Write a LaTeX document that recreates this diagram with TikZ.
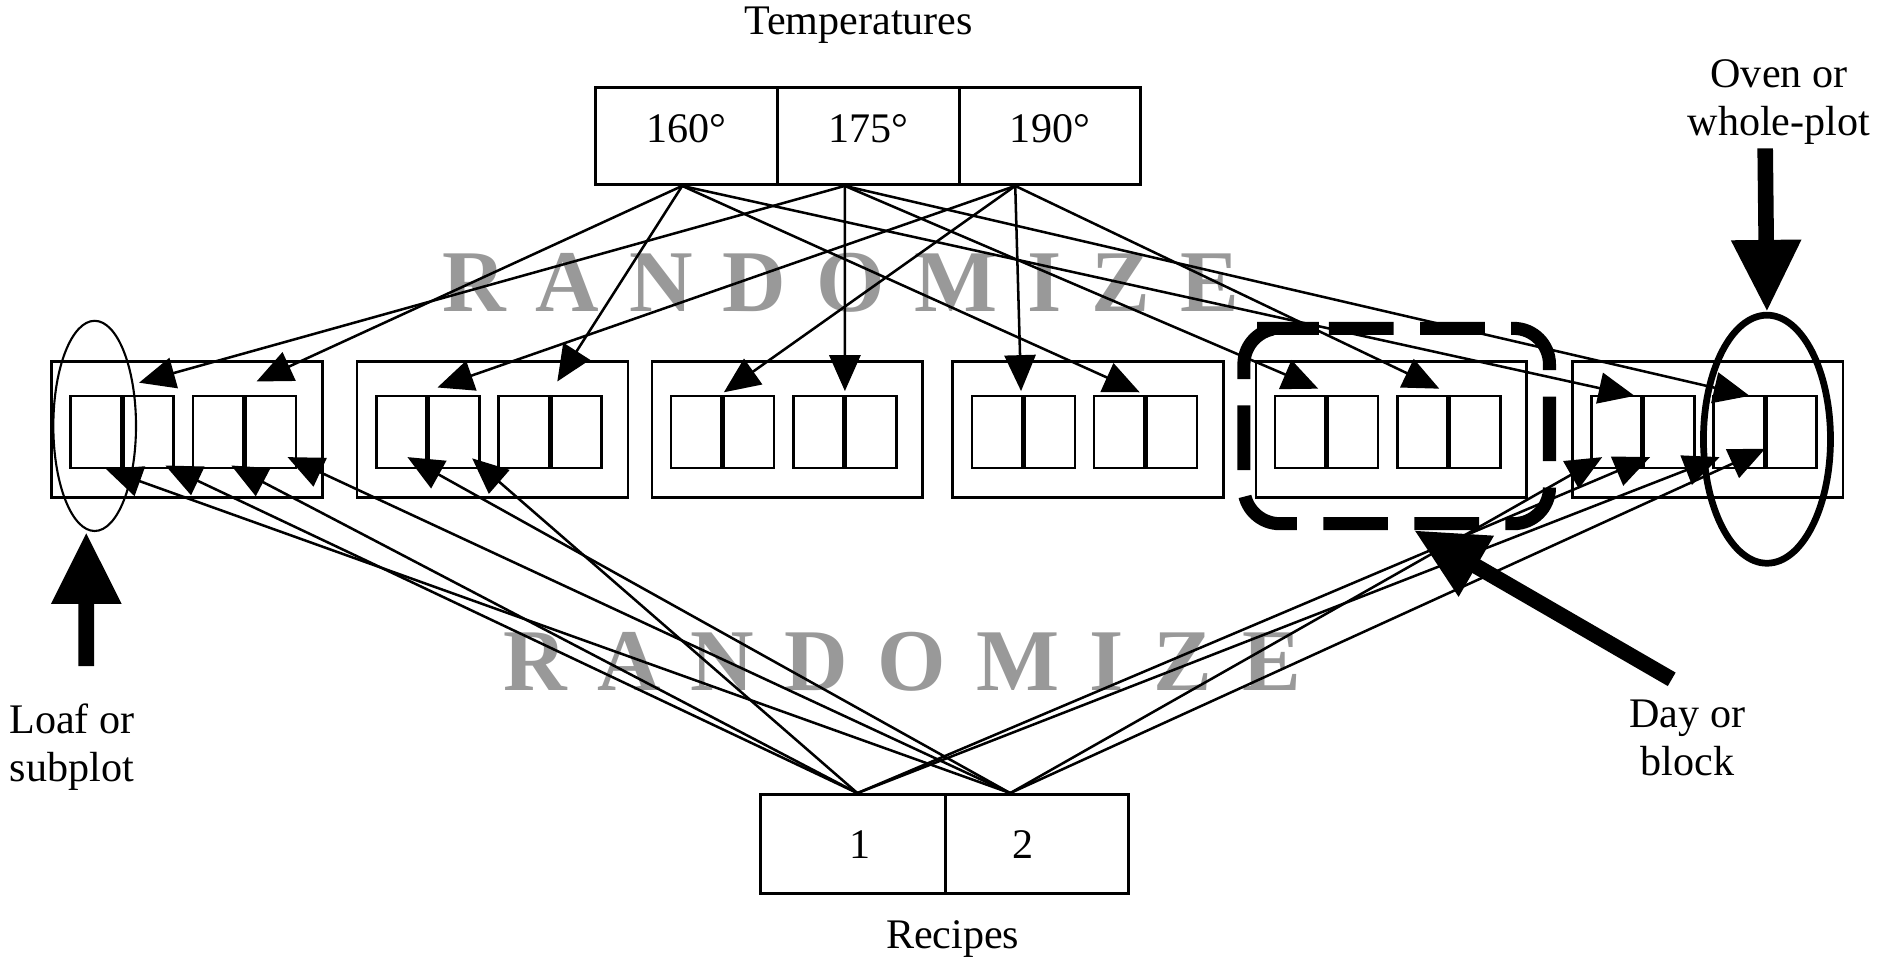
\documentclass[tikz,border=0pt]{standalone}
\usepackage{fontspec}
\setmainfont{Liberation Serif}
\usepackage{xcolor}
\definecolor{randgray}{RGB}{153,153,153}
\usetikzlibrary{arrows.meta,shapes.geometric}
\newcommand{\rgap}{\hspace{0.25cm}}

\begin{document}
\begin{tikzpicture}[
  cell/.style={draw, line width=0.7pt, minimum width=1.517cm, minimum height=0.81cm, inner sep=0pt, font=\fontsize{10}{12}\selectfont},
  tempcell/.style={cell, text depth=0.12cm},
  dayblock/.style={draw, line width=0.6pt, minimum width=2.26cm, minimum height=1.135cm, inner sep=0pt},
  loaf/.style={draw, line width=0.6pt, minimum width=0.42cm, minimum height=0.6cm, inner sep=0pt},
  sidenote/.style={font=\fontsize{10}{11.4}\selectfont, align=center},
  randword/.style={font=\fontsize{20.9}{24}\selectfont\bfseries, text=randgray, inner sep=0pt},
  tarrow/.style={line width=0.6pt, -{Triangle[length=0.3cm, width=0.26cm]}},
  bigarrow/.style={line width=3.7pt, -{Triangle[length=0.6cm, width=0.55cm]}},
  dayframe/.style={line width=3.1pt, dash pattern=on 0.54cm off 0.22cm, rounded corners=0.3cm}
]
  \useasboundingbox (0,0) rectangle (15.68,8.07);

  % the two RANDOMIZE words sit behind the lines
  \node[randword, anchor=base] (randtop) at (7.015,5.47) {R\rgap A\rgap N\rgap D\rgap O\rgap M\rgap I\rgap Z\rgap E};
  \node[randword, anchor=base] (randbottom) at (7.53,2.31) {R\rgap A\rgap N\rgap D\rgap O\rgap M\rgap I\rgap Z\rgap E};

  % temperatures
  \node[font=\fontsize{10}{12}\selectfont, anchor=base] (templabel) at (7.165,7.78) {Temperatures};
  \node[tempcell] (temp160) at (5.728,6.936) {160°};
  \node[tempcell] (temp175) at (7.245,6.936) {175°};
  \node[tempcell] (temp190) at (8.762,6.936) {190°};

  % recipes
  \node[cell, minimum width=1.54cm, minimum height=0.827cm] (recipe1) at (7.12,1.026) {\kern0.12cm 1};
  \node[cell, minimum width=1.53cm, minimum height=0.827cm] (recipe2) at (8.655,1.026) {2\kern0.24cm};
  \node[font=\fontsize{10}{12}\selectfont, anchor=base] (recipelabel) at (7.95,0.154) {Recipes};

  % days (blocks)
  \node[dayblock] (day1) at (1.56,4.484) {};
  \node[dayblock] (day2) at (4.11,4.484) {};
  \node[dayblock] (day3) at (6.57,4.484) {};
  \node[dayblock] (day4) at (9.08,4.484) {};
  \node[dayblock] (day5) at (11.61,4.484) {};
  \node[dayblock] (day6) at (14.25,4.484) {};

  % ovens, two loaves each
  \node[loaf] (oven1a) at (0.80,4.466) {};
  \node[loaf] (oven1b) at (1.24,4.466) {};
  \node[loaf] (oven2a) at (1.82,4.466) {};
  \node[loaf] (oven2b) at (2.26,4.466) {};
  \node[loaf] (oven3a) at (3.35,4.466) {};
  \node[loaf] (oven3b) at (3.79,4.466) {};
  \node[loaf] (oven4a) at (4.37,4.466) {};
  \node[loaf] (oven4b) at (4.81,4.466) {};
  \node[loaf] (oven5a) at (5.81,4.466) {};
  \node[loaf] (oven5b) at (6.25,4.466) {};
  \node[loaf] (oven6a) at (6.83,4.466) {};
  \node[loaf] (oven6b) at (7.27,4.466) {};
  \node[loaf] (oven7a) at (8.32,4.466) {};
  \node[loaf] (oven7b) at (8.76,4.466) {};
  \node[loaf] (oven8a) at (9.34,4.466) {};
  \node[loaf] (oven8b) at (9.78,4.466) {};
  \node[loaf] (oven9a) at (10.85,4.466) {};
  \node[loaf] (oven9b) at (11.29,4.466) {};
  \node[loaf] (oven10a) at (11.87,4.466) {};
  \node[loaf] (oven10b) at (12.31,4.466) {};
  \node[loaf] (oven11a) at (13.49,4.466) {};
  \node[loaf] (oven11b) at (13.93,4.466) {};
  \node[loaf] (oven12a) at (14.51,4.466) {};
  \node[loaf] (oven12b) at (14.95,4.466) {};

  % rings and the dashed day frame
  \node[ellipse, draw, line width=0.5pt, minimum width=0.69cm, minimum height=1.754cm, inner sep=0pt] (loafring) at (0.79,4.516) {};
  \node[ellipse, draw, line width=1.6pt, minimum width=1.06cm, minimum height=2.07cm, inner sep=0pt] (ovenring) at (14.745,4.405) {};
  \draw[dayframe] (10.79,5.33) -- (12.93,5.33) -- (12.93,3.70) -- (10.38,3.70) -- (10.38,5.33) -- cycle;
  \coordinate (dayfoot) at (11.80,3.645);

  % side labels
  \node[sidenote] (loaflabel) at (0.60,1.836) {Loaf or\\subplot};
  \node[sidenote] (ovenlabel) at (14.845,7.22) {Oven or\\whole-plot};
  \node[sidenote] (daylabel) at (14.08,1.91) {Day or\\block};

  \draw[bigarrow] ([xshift=0.12cm,yshift=0.19cm]loaflabel.north) -- ([xshift=-0.07cm]loafring.south);
  \draw[bigarrow] ([xshift=-0.115cm,yshift=0.09cm]ovenlabel.south) -- (ovenring.north);
  \draw[bigarrow] ([xshift=-0.13cm,yshift=0.05cm]daylabel.north) -- (dayfoot);

  % temperatures to ovens
  \coordinate (from160) at ([xshift=-0.035cm]temp160.south);
  \coordinate (from175) at ([xshift=-0.195cm]temp175.south);
  \coordinate (from190) at ([xshift=-0.29cm]temp190.south);
  \draw[tarrow] (from175) -- ([shift={(0.14,0.10)}]oven1a.north east);
  \draw[tarrow] (from160) -- ([shift={(0.10,0.11)}]oven2a.north east);
  \draw[tarrow] (from190) -- ([shift={(0.08,0.06)}]oven3a.north east);
  \draw[tarrow] (from160) -- ([shift={(0.06,0.11)}]oven4a.north east);
  \draw[tarrow] (from190) -- ([shift={(0.01,0.02)}]oven5a.north east);
  \draw[tarrow] (from175) -- ([shift={(0,0.03)}]oven6a.north east);
  \draw[tarrow] (from190) -- ([shift={(-0.02,0.03)}]oven7a.north east);
  \draw[tarrow] (from160) -- ([shift={(-0.05,0.02)}]oven8a.north east);
  \draw[tarrow] (from175) -- ([shift={(-0.07,0.05)}]oven9a.north east);
  \draw[tarrow] (from190) -- ([shift={(-0.08,0.05)}]oven10a.north east);
  \draw[tarrow] (from160) -- ([shift={(-0.07,-0.01)}]oven11a.north east);
  \draw[tarrow] (from175) -- ([shift={(-0.13,-0.01)}]oven12a.north east);

  % recipes to loaves
  \coordinate (from1) at ([xshift=0.035cm]recipe1.north);
  \coordinate (from2) at ([xshift=-0.225cm]recipe2.north);
  \draw[tarrow] (from2) -- ([shift={(0.085,0)}]oven1a.south);
  \draw[tarrow] (from1) -- ([shift={(0.14,0.03)}]oven1b.south);
  \draw[tarrow] (from1) -- ([shift={(0.11,0.03)}]oven2a.south);
  \draw[tarrow] (from2) -- ([shift={(0.14,0.10)}]oven2b.south);
  \draw[tarrow] (from2) -- ([shift={(0.05,0.10)}]oven3a.south);
  \draw[tarrow] (from1) -- ([shift={(0.15,0.09)}]oven3b.south);
  \draw[tarrow] (from2) -- ([shift={(-0.12,0.10)}]oven11a.south);
  \draw[tarrow] (from1) -- ([shift={(-0.16,0.10)}]oven11b.south);
  \draw[tarrow] (from1) -- ([shift={(-0.16,0.10)}]oven12a.south);
  \draw[tarrow] (from2) -- ([shift={(-0.22,0.17)}]oven12b.south);
\end{tikzpicture}
\end{document}
